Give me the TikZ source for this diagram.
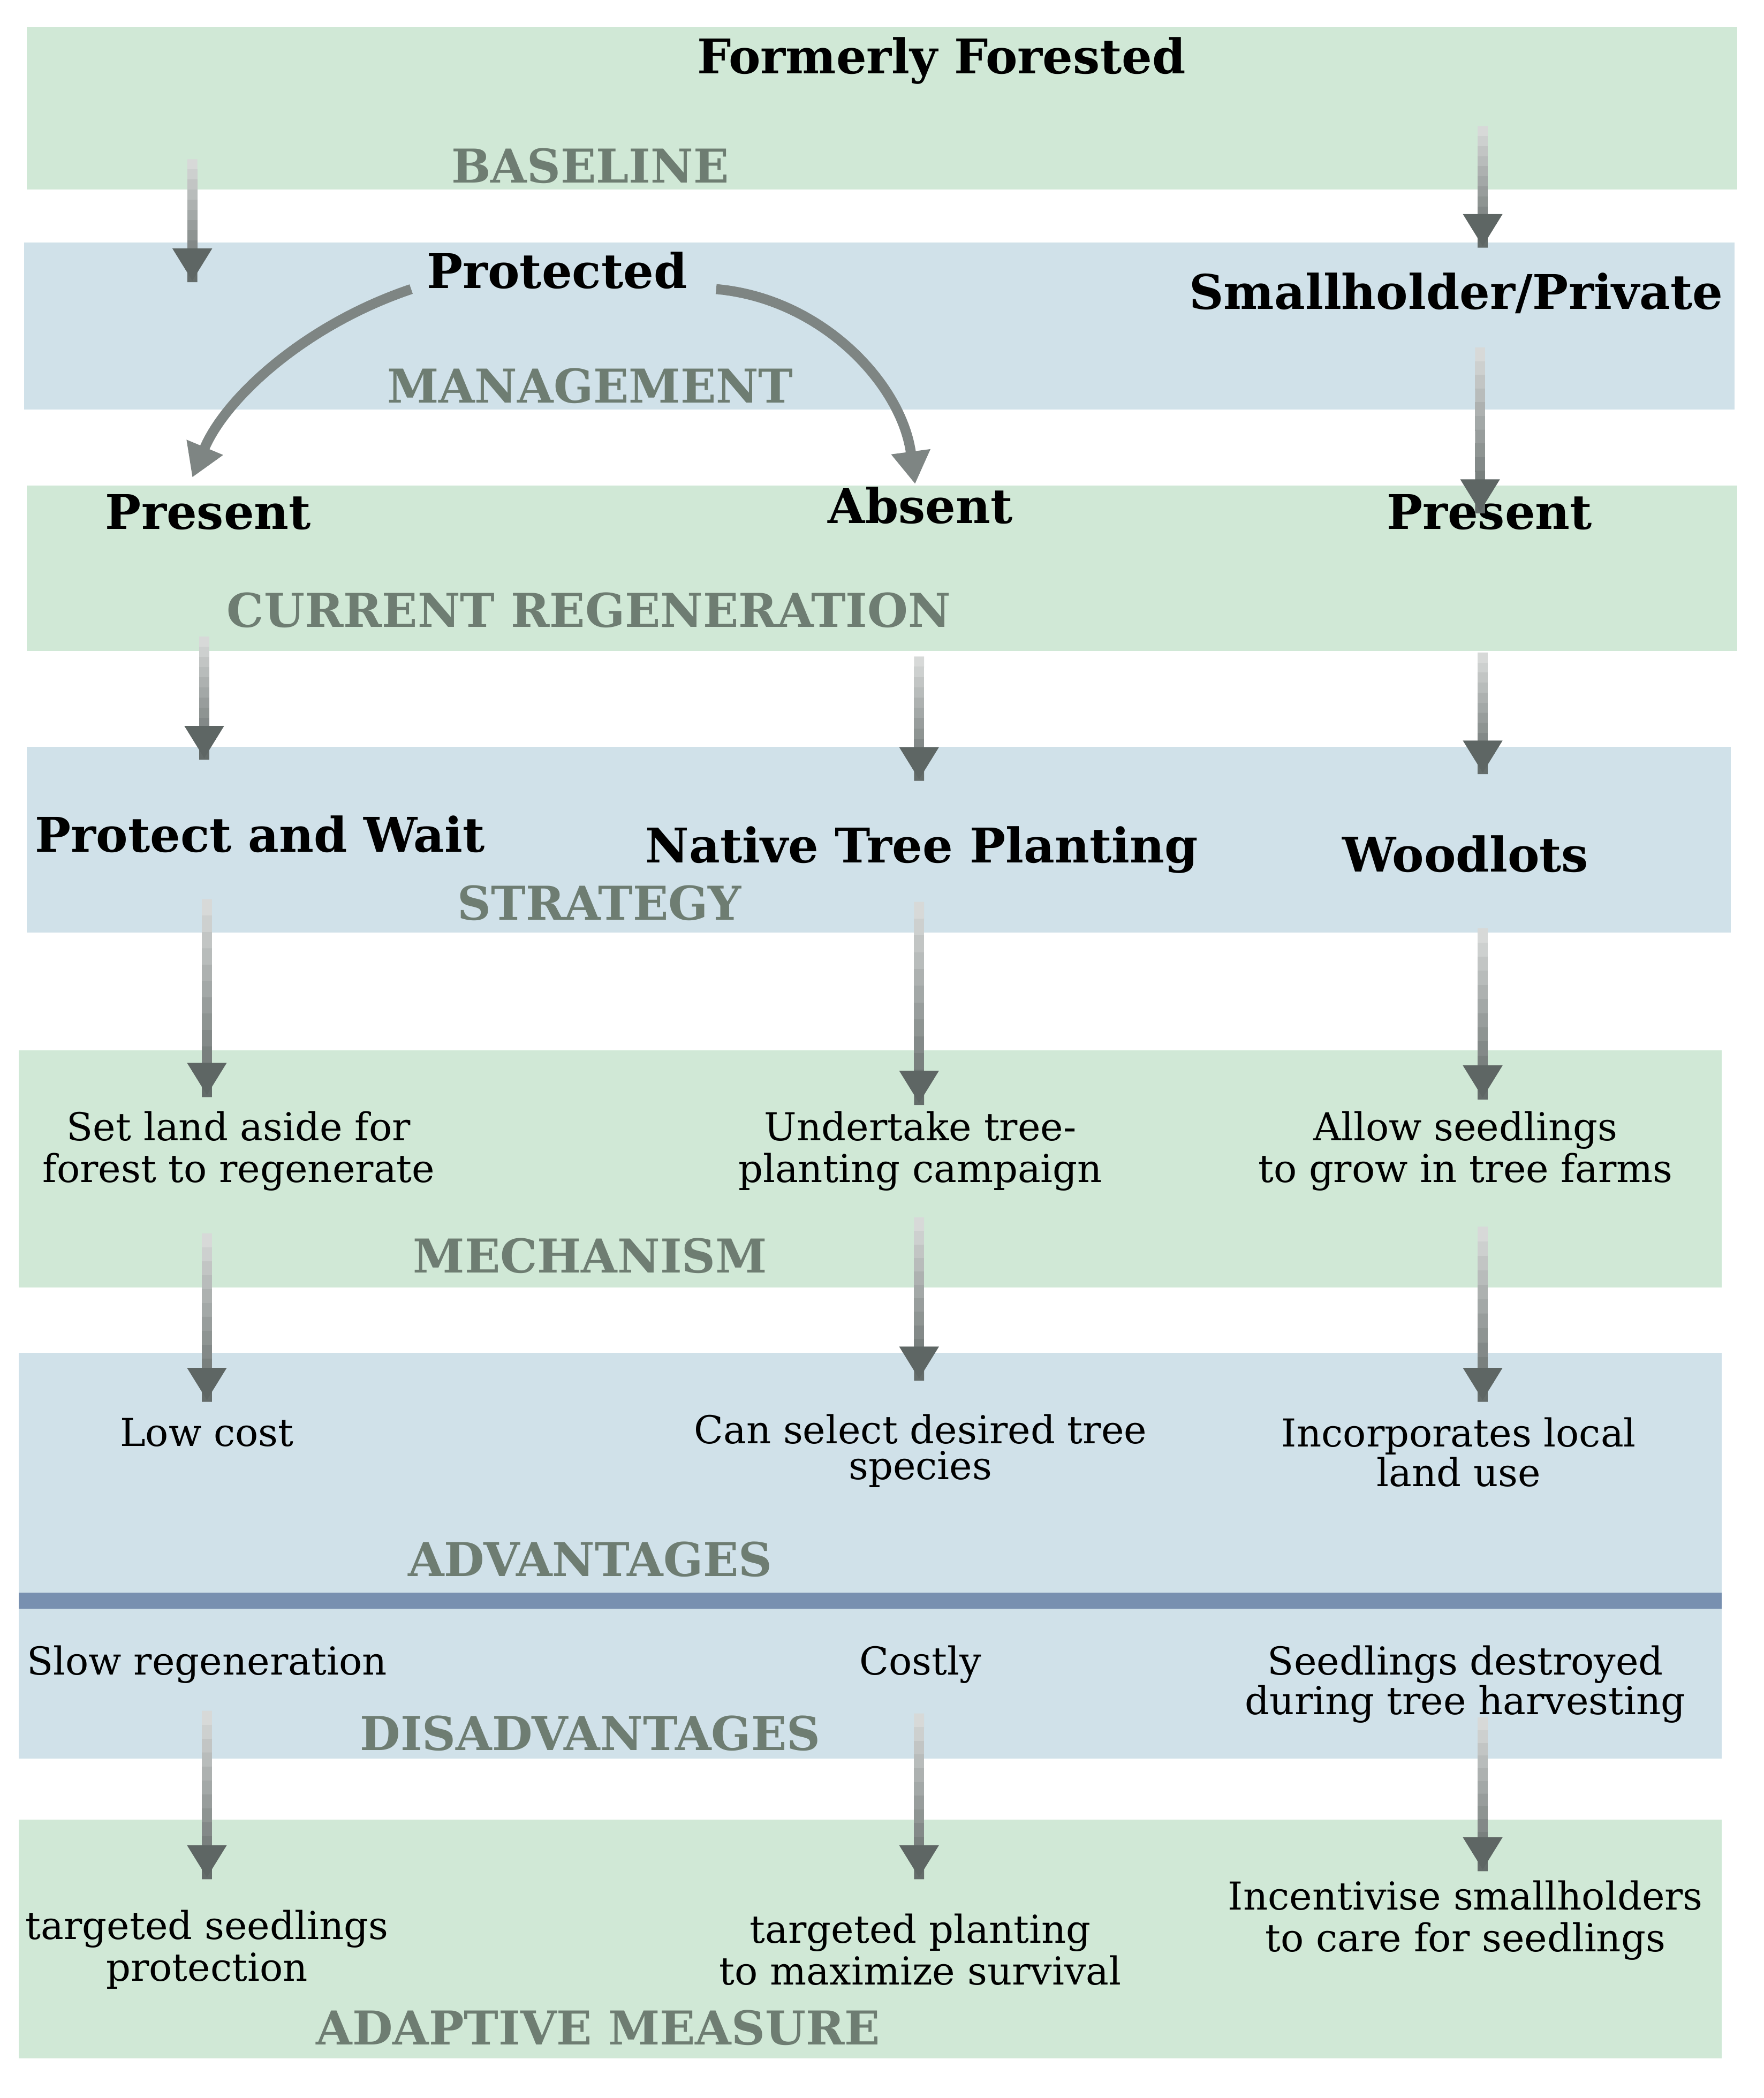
\documentclass[tikz,border=0pt]{standalone}
\usepackage{fontspec}
\setmainfont{DejaVu Serif}
\usetikzlibrary{arrows.meta,calc}
\definecolor{gband}{HTML}{D0E8D6}
\definecolor{bband}{HTML}{D0E1E9}
\definecolor{divc}{HTML}{7890B0}
\definecolor{labc}{HTML}{6E7D72}
\definecolor{arrc}{HTML}{5E6664}
\newcommand{\gradarrow}[2]{%
  \foreach \i in {0,...,11}{%
    \pgfmathsetmacro{\ta}{\i/12}\pgfmathsetmacro{\tb}{(\i+1.1)/12}%
    \pgfmathtruncatemacro{\pc}{25+\i*6.5}%
    \draw[draw=arrc!\pc!white,line width=4.3pt] ($(#1)!\ta!(#2)$) -- ($(#1)!\tb!(#2)$);}%
  \draw[arr] ($(#1)!0.9!(#2)$) -- (#2);}
\begin{document}
\begin{tikzpicture}[x=0.02cm,y=-0.02cm,
  title/.style={font=\fontsize{20.5}{22}\selectfont\bfseries,text=black},
  body/.style={font=\fontsize{16.5}{18}\selectfont,align=center,text=black},
  tight/.style={font=\fontsize{16.5}{15.5}\selectfont},
  lab/.style={font=\fontsize{20}{22}\selectfont\bfseries,text=labc},
  arr/.style={draw=arrc,line width=4.3pt,-{Triangle[length=14pt,width=16pt]}},
  bandg/.style={fill=gband,draw=none},
  bandb/.style={fill=bband,draw=none}]
\useasboundingbox (0,0) rectangle (1330,1582);
\fill[white] (0,0) rectangle (1330,1582);
% bands
\path[bandg] (20,20) rectangle (1310,143);
\path[bandb] (18,183) rectangle (1308,309);
\path[bandg] (20,366) rectangle (1310,491);
\path[bandb] (20,563) rectangle (1305,703);
\path[bandg] (14,792) rectangle (1298,971);
\path[bandb] (14,1020) rectangle (1298,1326);
\fill[divc] (14,1201) rectangle (1298,1213);
\path[bandg] (14,1372) rectangle (1298,1552);
% labels
\node[lab] (l1) at (445,125) {BASELINE};
\node[lab] (l2) at (445,291) {MANAGEMENT};
\node[lab] (l3) at (444,460) {CURRENT REGENERATION};
\node[lab] (l4) at (452,681) {STRATEGY};
\node[lab] (l5) at (445,947) {MECHANISM};
\node[lab] (l6) at (445,1176) {ADVANTAGES};
\node[lab] (l7) at (445,1307) {DISADVANTAGES};
\node[lab] (l8) at (451,1529) {ADAPTIVE MEASURE};
% titles
\node[title] (ff) at (710,46) {Formerly Forested};
\node[title] (prot) at (420,204) {Protected};
\node[title] (sp) at (1098,221) {Smallholder/Private};
\node[title] (p1) at (157,386) {Present};
\node[title] (ab) at (694,381) {Absent};
\node[title] (p2) at (1123,386) {Present};
\node[title] (s1) at (196,629) {Protect and Wait};
\node[title] (s2) at (695,641) {Native Tree Planting};
\node[title] (s3) at (1105,644) {Woodlots};
% body
\node[body] (m1) at (180,868) {Set land aside for\\forest to regenerate};
\node[body] (m2) at (694,868) {Undertake tree-\\planting campaign};
\node[body] (m3) at (1105,868) {Allow seedlings\\to grow in tree farms};
\node[body] (a1) at (156,1080) {Low cost};
\node[body,tight] (a2) at (694,1094) {Can select desired tree\\species};
\node[body,tight] (a3) at (1100,1095) {Incorporates local\\land use};
\node[body] (d1) at (156,1255) {Slow regeneration};
\node[body] (d2) at (694,1255) {Costly};
\node[body,tight] (d3) at (1105,1270) {Seedlings destroyed\\during tree harvesting};
\node[body] (ad1) at (156,1470) {targeted seedlings\\protection};
\node[body] (ad2) at (694,1470) {targeted planting\\to maximize survival};
\node[body] (ad3) at (1105,1448) {Incentivise smallholders\\to care for seedlings};
% arrows
\foreach \n/\x/\ya/\yb in {a/145/120/212, b/1118/95/186, c/1116/262/386,
  d/154/480/572, e/693/495/588, f/1118/492/583,
  g/156/678/826, h/693/680/832, i/1118/700/828,
  j/156/930/1056, k/693/918/1040, l/1118/925/1056,
  m/156/1290/1416, n/693/1292/1416, o/1118/1295/1410}{
  \coordinate (\n s) at (\x,\ya);
  \coordinate (\n e) at (\x,\yb);
  \gradarrow{\n s}{\n e}
}
\coordinate (cs1) at (310,218);
\coordinate (ce1) at (145,360);
\coordinate (cs2) at (540,218);
\coordinate (ce2) at (690,365);
\draw[arr,draw=arrc!80!white] (cs1) .. controls (230,245) and (170,300) .. (ce1);
\draw[arr,draw=arrc!80!white] (cs2) .. controls (620,225) and (680,290) .. (ce2);
\end{tikzpicture}
\end{document}
